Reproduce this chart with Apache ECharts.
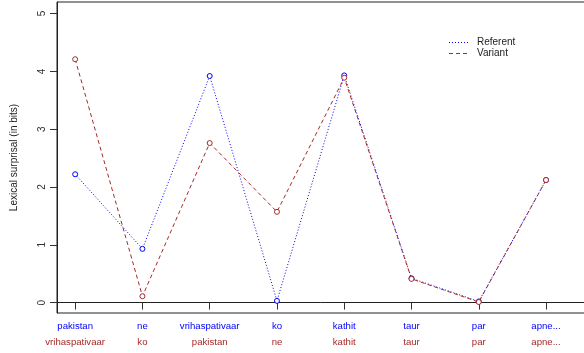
<!DOCTYPE html>
<html>
<head>
<meta charset="utf-8">
<script src="https://cdn.jsdelivr.net/npm/echarts@6/dist/echarts.min.js"></script>
<style>
  html, body { margin: 0; padding: 0; background: #fff; }
  #chart { width: 584px; height: 353px; }
</style>
</head>
<body>
<div id="chart"></div>
<script>
// Word order for each sentence (position 1..8 on the x axis)
const referentWords = ['pakistan', 'ne', 'vrihaspativaar', 'ko', 'kathit', 'taur', 'par', 'apne...'];
const variantWords  = ['vrihaspativaar', 'ko', 'pakistan', 'ne', 'kathit', 'taur', 'par', 'apne...'];

// Lexical surprisal (bits) per word position
const referentSurprisal = [2.22, 0.93, 3.92, 0.03, 3.93, 0.42, 0.02, 2.12];
const variantSurprisal  = [4.21, 0.11, 2.76, 1.57, 3.89, 0.41, 0.01, 2.12];

const positions = [1, 2, 3, 4, 5, 6, 7, 8];
const yTicks = [0, 1, 2, 3, 4, 5];

const FONT = '"Liberation Sans", Arial, Helvetica, sans-serif';
const BLUE = '#0000ff';
const BROWN = '#a52a2a';

const pairs = (vals) => vals.map((v, i) => [positions[i], v]);

const chart = echarts.init(document.getElementById('chart'), null, { renderer: 'canvas' });

chart.setOption({
  animation: false,
  backgroundColor: '#fff',
  grid: {
    left: 57, top: 2, width: 560, height: 311,
    outerBoundsMode: 'none',
    containLabel: false,
    show: true, borderColor: '#222', borderWidth: 1, backgroundColor: 'transparent'
  },
  xAxis: {
    type: 'value',
    min: 0.73, max: 9.055,
    splitLine: { show: false },
    axisLine: { show: true, lineStyle: { color: '#222', width: 1 } },
    axisTick: {
      show: true, length: 7, inside: false,
      customValues: positions,
      lineStyle: { color: '#333', width: 1 }
    },
    axisLabel: {
      show: true,
      margin: 5,
      customValues: positions,
      formatter: (v) => {
        const i = Math.round(v) - 1;
        return '{a|' + referentWords[i] + '}\n{b|' + variantWords[i] + '}';
      },
      rich: {
        a: { color: BLUE, fontSize: 9.6, fontFamily: FONT, lineHeight: 16 },
        b: { color: BROWN, fontSize: 9.6, fontFamily: FONT, lineHeight: 16 }
      }
    }
  },
  yAxis: {
    type: 'value',
    min: -0.18, max: 5.2,
    name: 'Lexical surprisal (in bits)',
    nameLocation: 'middle',
    nameGap: 38,
    nameRotate: 90,
    nameTextStyle: { color: '#222', fontSize: 10, fontFamily: FONT },
    splitLine: { show: false },
    axisLine: { show: true, lineStyle: { color: '#222', width: 1 } },
    axisTick: {
      show: true, length: 7,
      customValues: yTicks,
      lineStyle: { color: '#333', width: 1 }
    },
    axisLabel: {
      show: true,
      rotate: 90,
      margin: 15,
      customValues: yTicks,
      color: '#333',
      fontSize: 10,
      fontFamily: FONT,
      align: 'center',
      verticalAlign: 'middle'
    }
  },
  series: [
    {
      name: 'Referent',
      type: 'line',
      data: pairs(referentSurprisal),
      symbol: 'circle',
      symbolSize: 5,
      showAllSymbol: true,
      lineStyle: { color: BLUE, width: 1, type: [1, 2] },
      itemStyle: { color: '#fff', borderColor: BLUE, borderWidth: 1 },
      z: 2
    },
    {
      name: 'Variant',
      type: 'line',
      data: pairs(variantSurprisal),
      symbol: 'circle',
      symbolSize: 5,
      showAllSymbol: true,
      lineStyle: { color: BROWN, width: 1, type: [4, 3] },
      itemStyle: { color: '#fff', borderColor: BROWN, borderWidth: 1 },
      z: 3
    }
  ],
  graphic: [
    { type: 'line', shape: { x1: 449, y1: 42.5, x2: 469, y2: 42.5 },
      style: { stroke: BLUE, lineWidth: 1, lineDash: [1, 2] } },
    { type: 'text', left: 477, top: 37.5,
      style: { text: 'Referent', fill: '#222', font: '10px ' + FONT } },
    { type: 'line', shape: { x1: 449, y1: 53.5, x2: 469, y2: 53.5 },
      style: { stroke: BROWN, lineWidth: 1, lineDash: [4, 3] } },
    { type: 'text', left: 477, top: 48.5,
      style: { text: 'Variant', fill: '#222', font: '10px ' + FONT } }
  ]
});
</script>
</body>
</html>
